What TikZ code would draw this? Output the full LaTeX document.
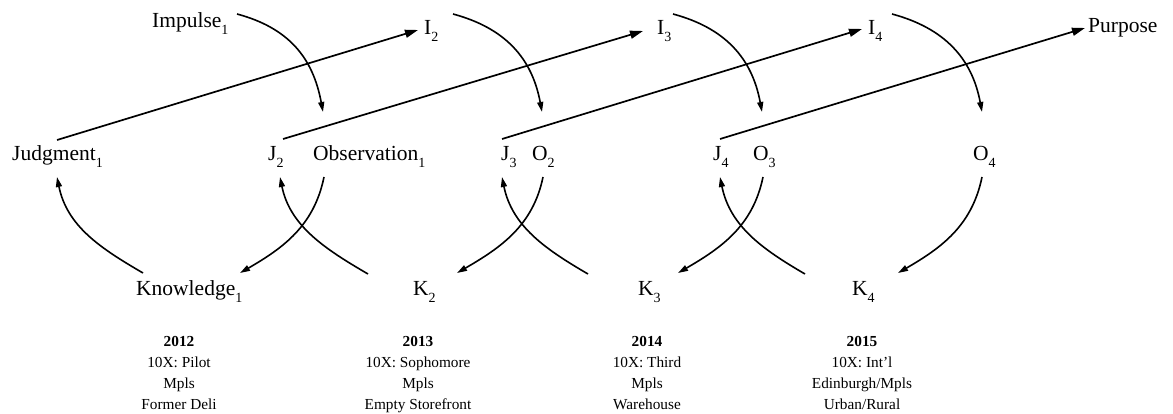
\documentclass[tikz,border=0pt]{standalone}
\usepackage{fontspec}
\setmainfont{Liberation Serif}
\usetikzlibrary{arrows.meta}
% lowered index digit used in all stage labels
\newcommand\lsub[1]{\raisebox{-7pt}{\fontsize{14}{14}\selectfont #1}}

\begin{document}
\begin{tikzpicture}[x=1pt,y=-1pt,
  lbl/.style={font=\fontsize{21.5}{24}\selectfont, inner sep=0pt, anchor=base west},
  info/.style={font=\fontsize{15.3}{18}\selectfont, inner sep=0pt, anchor=base},
  link/.style={line width=1.7pt, -{Triangle[length=13pt,width=8pt]}},
  loop/.style={line width=1.6pt, -{Triangle[length=10pt,width=6pt]}},
]
\useasboundingbox (0,0) rectangle (1173,414);

% ---- top row: impulses
\node[lbl] (imp1) at (152,28) {Impulse\lsub{1}};
\node[lbl] (i2)   at (424,35) {I\lsub{2}};
\node[lbl] (i3)   at (657,35) {I\lsub{3}};
\node[lbl] (i4)   at (868,35) {I\lsub{4}};
\node[lbl] (purp) at (1088,33) {Purpose};

% ---- middle row: judgments and observations
\node[lbl] (jud1) at (12,161)  {Judgment\lsub{1}};
\node[lbl] (j2)   at (268,161) {J\lsub{2}};
\node[lbl] (obs1) at (313,161) {Observation\lsub{1}};
\node[lbl] (j3)   at (501,161) {J\lsub{3}};
\node[lbl] (o2)   at (532,161) {O\lsub{2}};
\node[lbl] (j4)   at (713,161) {J\lsub{4}};
\node[lbl] (o3)   at (753,161) {O\lsub{3}};
\node[lbl] (o4)   at (973,161) {O\lsub{4}};

% ---- bottom row: knowledge
\node[lbl] (kn1) at (136,295) {Knowledge\lsub{1}};
\node[lbl] (k2)  at (413,295) {K\lsub{2}};
\node[lbl] (k3)  at (638,295) {K\lsub{3}};
\node[lbl] (k4)  at (852,295) {K\lsub{4}};

% ---- yearly notes
\node[info] (y12a) at (179,346) {\textbf{2012}};
\node[info] (y12b) at (179,367) {10X: Pilot};
\node[info] (y12c) at (179,388) {Mpls};
\node[info] (y12d) at (179,409) {Former Deli};
\node[info] (y13a) at (418,346) {\textbf{2013}};
\node[info] (y13b) at (418,367) {10X: Sophomore};
\node[info] (y13c) at (418,388) {Mpls};
\node[info] (y13d) at (418,409) {Empty Storefront};
\node[info] (y14a) at (647,346) {\textbf{2014}};
\node[info] (y14b) at (647,367) {10X: Third};
\node[info] (y14c) at (647,388) {Mpls};
\node[info] (y14d) at (647,409) {Warehouse};
\node[info] (y15a) at (862,346) {\textbf{2015}};
\node[info] (y15b) at (862,367) {10X: Int’l};
\node[info] (y15c) at (862,388) {Edinburgh/Mpls};
\node[info] (y15d) at (862,409) {Urban/Rural};

% ---- connector ports
\coordinate (jud1-up) at (57,140);
\coordinate (j2-up)   at (283,139);
\coordinate (j3-up)   at (502,139);
\coordinate (j4-up)   at (720,139);
\coordinate (i2-in)   at (418,30);
\coordinate (i3-in)   at (643,31);
\coordinate (i4-in)   at (862,29);
\coordinate (purp-in) at (1085,28);

\coordinate (imp1-out) at (237,14);
\coordinate (i2-out)   at (453,14);
\coordinate (i3-out)   at (673,14);
\coordinate (i4-out)   at (892,14);
\coordinate (obs1-in)  at (323,112);
\coordinate (o2-in)    at (542,112);
\coordinate (o3-in)    at (762,112);
\coordinate (o4-in)    at (982,112);

\coordinate (obs1-out) at (324,177);
\coordinate (o2-out)   at (543,177);
\coordinate (o3-out)   at (763,177);
\coordinate (o4-out)   at (982,177);
\coordinate (kn1-in)   at (240,273);
\coordinate (k2-in)    at (457,273);
\coordinate (k3-in)    at (678,273);
\coordinate (k4-in)    at (898,273);

\coordinate (kn1-out) at (143,273);
\coordinate (k2-out)  at (368,274);
\coordinate (k3-out)  at (588,274);
\coordinate (k4-out)  at (805,274);
\coordinate (jud1-in) at (57,177);
\coordinate (j2-in)   at (280,177);
\coordinate (j3-in)   at (502,177);
\coordinate (j4-in)   at (720,177);

% judgment feeds the next impulse
\draw[link] (jud1-up) -- (i2-in);
\draw[link] (j2-up) -- (i3-in);
\draw[link] (j3-up) -- (i4-in);
\draw[link] (j4-up) -- (purp-in);

% impulse leads to observation
\foreach \a/\b in {imp1-out/obs1-in, i2-out/o2-in, i3-out/o3-in, i4-out/o4-in}
  \draw[loop] (\a) .. controls +(52,14) and +(-10,-54) .. (\b);

% observation leads to knowledge
\foreach \a/\b in {obs1-out/kn1-in, o2-out/k2-in, o3-out/k3-in, o4-out/k4-in}
  \draw[loop] (\a) .. controls +(-10,49) and +(43,-25) .. (\b);

% knowledge leads to judgment
\foreach \a/\b in {kn1-out/jud1-in, k2-out/j2-in, k3-out/j3-in, k4-out/j4-in}
  \draw[loop] (\a) .. controls +(-43,-25) and +(10,49) .. (\b);
\end{tikzpicture}
\end{document}
